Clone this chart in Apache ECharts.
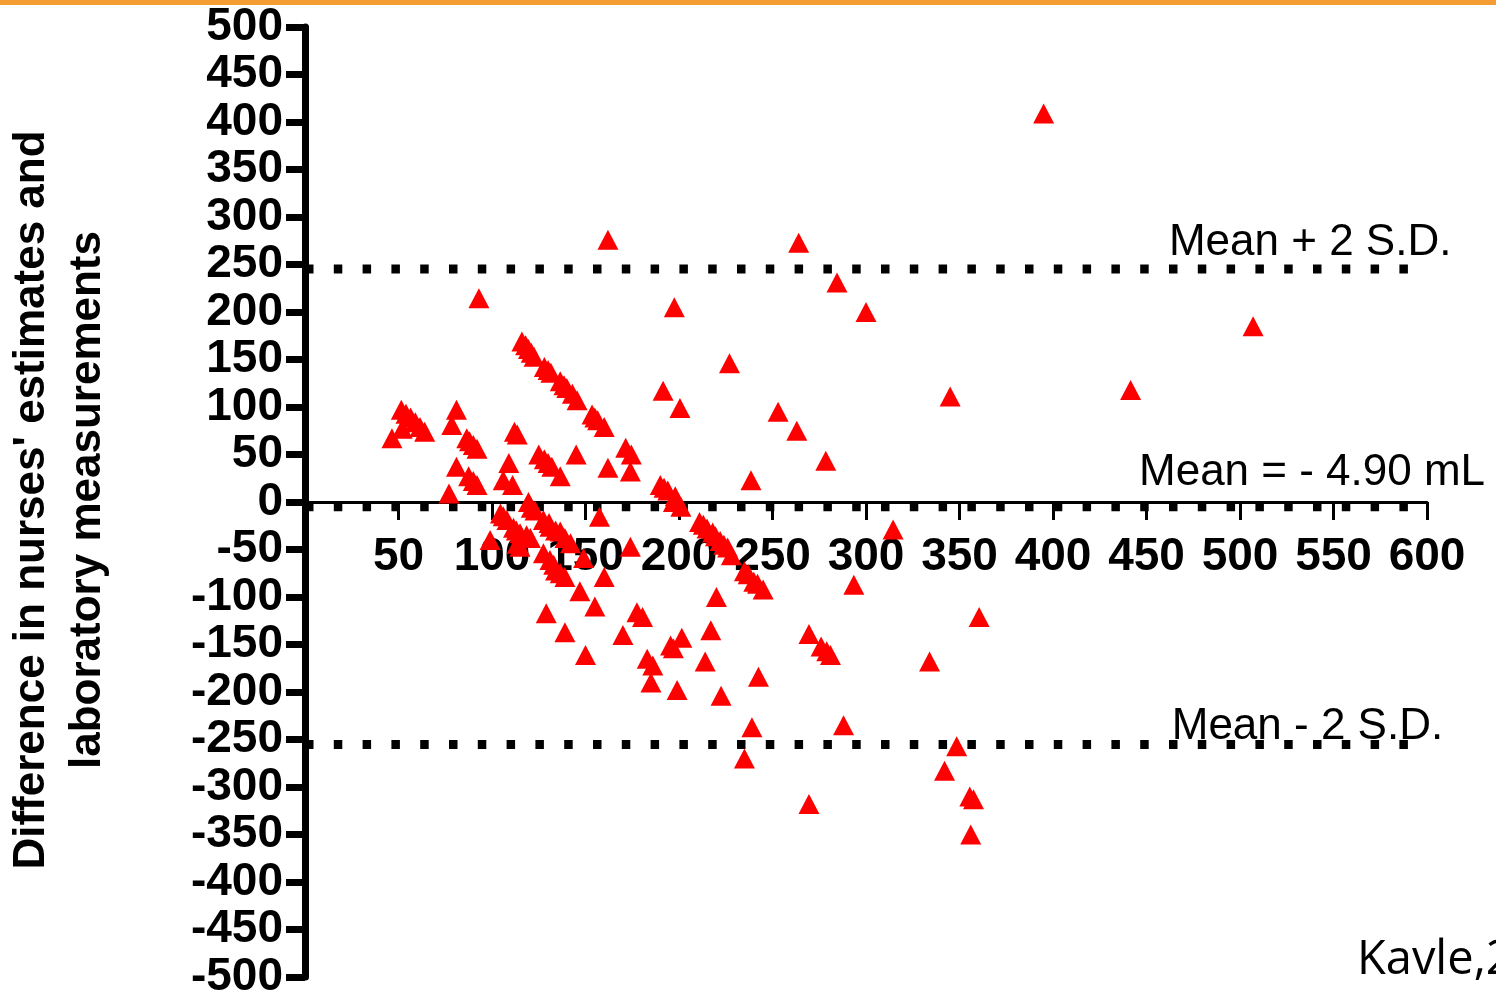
<!DOCTYPE html>
<html>
<head>
<meta charset="utf-8">
<script src="https://cdn.jsdelivr.net/npm/echarts@6/dist/echarts.min.js"></script>
<style>
html,body{margin:0;padding:0;background:#fff;}
#chart{width:1496px;height:992px;}
</style>
</head>
<body>
<div id="chart"></div>
<script>
// Average of the two measurements (mL)
const avgVolume = [
46.5,51.5,52,54,56.5,59,61.5,64,81,78.5,86.5,88,90,92,81,87.5,90,92,77,112,113.5,109,106,111,
125,128,130,132,136.5,145,162,171.5,174.5,174,
116,118,119.5,121,122.5,128,130,131.5,136.5,138.5,140,143,145.5,153.5,155,156.5,160,
93,162,264,284.5,300,197.5,507,441.5,345,395,227,191.5,200.5,253,263,278.5,238.5,
190,192,194,198,197,201,
99,104.5,106,108,111.5,113,115,119.5,121,123,118.5,120.5,113.5,115,
127.5,130.5,131,134,136.5,139,142,127.5,131,133,134,136.5,139,149,157.5,174,160,147,155,129,139,150,170,177.5,180.5,183,186,185,195.5,197,201.5,199,
211,213,215,218,219.5,222,224,226,228,235,237,240,242,245,220,217,214,222.5,242.5,239,235,
314.5,293.5,360.5,334,269.5,276,279,281,288,269.5,348.5,342,355.5,357.5,356
];
// Difference: nurses' estimate minus laboratory measurement (mL)
const diffVolume = [
67,97,77,93,89,84,79,74,97,81,67,64,60,56,37,27,22,18,9,74,71,41,23,18,
50,45,41,37,27,50,36,57,50,32,
169,165,161,157,153,142,139,136,127,123,120,114,107,92,89,86,79,
214.5,276,273,231,200,205,185,118,111,409,146,117,99,95,75,43.5,23,
18,15,12,6,0,-5,
-40,-12,-15,-19,-27,-30,-33,0,-6,-9,-35,-38,-44,-47,
-19,-22,-26,-30,-31,-38,-43.5,-54,-61,-66,-72,-75,-79,-59,-15.5,-47,-79,-94,-110,-117,-137,-161,-140,-116,-121,-165,-172,-190,-151,-154,-143,-198,
-21,-24,-28,-32,-36,-41,-45,-48,-56,-73,-76,-84,-86,-92,-100,-135,-168,-204,-184,-237,-270,
-29,-87,-121,-168,-139,-152,-157,-161,-235,-318,-257,-283,-310,-313,-350
];
// Reference lines (Bland-Altman)
const refNames  = ['Mean + 2 S.D.', 'Mean = - 4.90 mL', 'Mean - 2 S.D.'];
const refValues = [245.3, -4.9, -255.3];
const refLineEnd = 593;
const refLabelX = [462, 446, 463.5];
const xTicks = [0, 600, 50];
const yTicks = [-500, 500, 50];
const yTitle = ["Difference in nurses' estimates and", 'laboratory measurements'];
const sourceNote = 'Kavle,2';

const W = 1496, H = 992;
const gridL = 305, gridR = 69, gridT = 27, gridB = 15;
const plotH = H - gridT - gridB;
// place the x axis where y = 0
const zeroFromBottom = plotH * (0 - yTicks[0]) / (yTicks[1] - yTicks[0]);

const chart = echarts.init(document.getElementById('chart'), null, {renderer:'canvas'});
const pts = avgVolume.map((x, i) => [x, diffVolume[i]]);

const refSeries = refValues.map((v, i) => ({
  type: 'line',
  name: refNames[i],
  data: [[0, v], [refLineEnd, v]],
  symbol: 'none',
  silent: true,
  z: 3,
  lineStyle: { color: '#000', width: 9, type: [8.5, 20.3], cap: 'butt' }
}));

chart.setOption({
  animation: false,
  backgroundColor: '#fff',
  grid: { left: gridL, right: gridR, top: gridT, bottom: gridB, containLabel: false, outerBoundsMode: 'none' },
  xAxis: {
    type: 'value', min: xTicks[0], max: xTicks[1], interval: xTicks[2],
    position: 'bottom', offset: -zeroFromBottom,
    axisLine: { onZero: false, lineStyle: { color: '#000', width: 3 } },
    axisTick: { show: true, length: 18, lineStyle: { color: '#000', width: 3 } },
    splitLine: { show: false },
    axisLabel: {
      margin: 32, color: '#000', fontSize: 46, fontWeight: 'bold',
      fontFamily: '"Liberation Sans", Arial, sans-serif',
      showMinLabel: true, showMaxLabel: true, hideOverlap: false,
      formatter: v => v === 0 ? '' : String(v)
    }
  },
  yAxis: {
    type: 'value', min: yTicks[0], max: yTicks[1], interval: yTicks[2],
    axisLine: { onZero: false, lineStyle: { color: '#000', width: 7 } },
    axisTick: { show: true, length: 19, lineStyle: { color: '#000', width: 7 } },
    splitLine: { show: false },
    axisLabel: {
      margin: 22, color: '#000', fontSize: 46, fontWeight: 'bold',
      fontFamily: '"Liberation Sans", Arial, sans-serif',
      showMinLabel: true, showMaxLabel: true, hideOverlap: false
    }
  },
  series: [
    ...refSeries,
    {
      type: 'scatter',
      data: pts,
      symbol: 'triangle',
      symbolSize: [21, 20],
      z: 5,
      itemStyle: { color: '#ff0000', opacity: 1 }
    }
  ]
});

const labelOffsets = [-26, -34, -18];
const graphics = [
  { type: 'rect', left: 0, top: 0, shape: { width: W, height: 5 }, style: { fill: '#f49d33' }, z: 10 },
  {
    type: 'text', x: 60, y: 500, rotation: Math.PI / 2,
    style: {
      text: yTitle.join('\n'),
      font: 'bold 44px "Liberation Sans", Arial, sans-serif',
      fill: '#000', align: 'center', verticalAlign: 'middle', lineHeight: 56
    }
  },
  {
    type: 'text', x: 1357, y: 961,
    style: { text: sourceNote, font: '47px "Open Sans", sans-serif', fill: '#000', align: 'left', verticalAlign: 'middle' }
  }
];
refNames.forEach((name, i) => {
  const p = chart.convertToPixel({ gridIndex: 0 }, [refLabelX[i], refValues[i]]);
  graphics.push({
    type: 'text', x: p[0], y: p[1] + labelOffsets[i], z: 20,
    style: { text: name, font: '44px "Liberation Sans", Arial, sans-serif', fill: '#000', align: 'left', verticalAlign: 'middle' }
  });
});
chart.setOption({ graphic: graphics });
</script>
</body>
</html>
